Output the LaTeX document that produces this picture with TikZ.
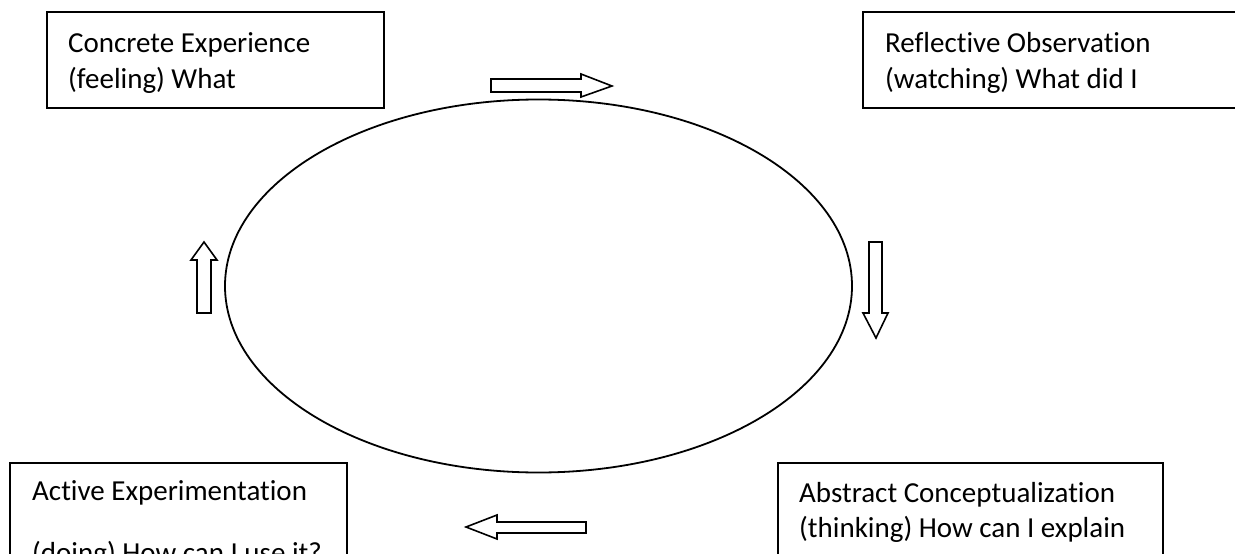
\documentclass[tikz,border=0pt]{standalone}
\usepackage{fontspec}
\setmainfont[Ligatures=NoCommon]{Carlito}
\tikzset{
  boxframe/.style={draw=black, line width=1.8pt, fill=none},
  label/.style={anchor=base west, inner sep=0pt, font=\fontsize{29}{34}\selectfont},
  blockarrow/.style={draw=black, line width=1.6pt, fill=white, line join=miter},
  cycle/.style={draw=black, line width=1.8pt}
}
\begin{document}
\begin{tikzpicture}[x=1pt, y=-1pt]
\useasboundingbox (0,0) rectangle (1235,554);
\clip (0,0) rectangle (1235,554);
\fill[white] (0,0) rectangle (1235,554);
% boxes
\draw[boxframe] (47,12) rectangle (384,108);
\draw[boxframe] (863,12) rectangle (1245,108);
\draw[boxframe] (10,463) rectangle (347,600);
\draw[boxframe] (778,463) rectangle (1163,600);
% texts
\node[label] (ce1) at (68,52) {Concrete Experience};
\node[label] (ce2) at (68,88) {(feeling) What};
\node[label] (ro1) at (885,52) {Reflective Observation};
\node[label] (ro2) at (885,88) {(watching) What did I};
\node[label] (ae1) at (32,500) {Active Experimentation};
\node[label] (ae2) at (32,562) {(doing) How can I use it?};
\node[label] (ac1) at (799,502) {Abstract Conceptualization};
\node[label] (ac2) at (799,537) {(thinking) How can I explain};
% cycle
\draw[cycle] (538.5,286) ellipse [x radius=313.5, y radius=186.5];
% block arrows
\draw[blockarrow] (491,79) -- (581,79) -- (581,74) -- (612,86) -- (581,97) -- (581,92) -- (491,92) -- cycle;
\draw[blockarrow] (869,242) -- (882,242) -- (882,313) -- (888,313) -- (876,338) -- (863,313) -- (869,313) -- cycle;
\draw[blockarrow] (197,313) -- (211,313) -- (211,260) -- (217,260) -- (204,242) -- (191,260) -- (197,260) -- cycle;
\draw[blockarrow] (586,522) -- (497,522) -- (497,515) -- (466,527) -- (497,539) -- (497,533) -- (586,533) -- cycle;
\end{tikzpicture}
\end{document}
